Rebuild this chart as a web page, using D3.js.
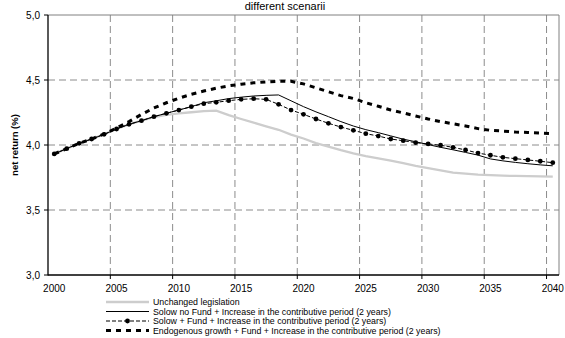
<!DOCTYPE html>
<html>
<head>
<meta charset="utf-8">
<script src="https://cdn.jsdelivr.net/npm/d3@7"></script>
<style>
  body { margin: 0; background: #fff; }
  text { font-family: "Liberation Sans", Arial, sans-serif; fill: #000; }
</style>
</head>
<body>
<div id="chart"></div>
<script>
// years 2000..2040
const years = d3.range(2000, 2041)

const unchanged = [3.931, 3.972, 4.013, 4.046, 4.082, 4.123, 4.159, 4.187, 4.215, 4.232,
  4.243, 4.252, 4.26, 4.265, 4.23, 4.2, 4.172, 4.144, 4.117, 4.08,
  4.05, 4.015, 3.988, 3.96, 3.935, 3.915, 3.898, 3.88, 3.86, 3.84,
  3.823, 3.805, 3.788, 3.78, 3.772, 3.768, 3.764, 3.762, 3.76, 3.758, 3.756]

const solowNoFund = [3.931, 3.972, 4.013, 4.046, 4.082, 4.123, 4.159, 4.187, 4.218, 4.244,
  4.269, 4.295, 4.325, 4.34, 4.357, 4.368, 4.377, 4.382, 4.385, 4.34,
  4.295, 4.255, 4.218, 4.18, 4.146, 4.118, 4.095, 4.07, 4.045, 4.025,
  4.003, 3.982, 3.963, 3.943, 3.922, 3.893, 3.878, 3.866, 3.856, 3.847, 3.84]

const solowFund = [3.931, 3.972, 4.013, 4.046, 4.082, 4.123, 4.159, 4.187, 4.218, 4.244,
  4.269, 4.295, 4.318, 4.328, 4.341, 4.351, 4.356, 4.351, 4.313, 4.269,
  4.236, 4.2, 4.167, 4.138, 4.113, 4.087, 4.069, 4.046, 4.033, 4.018,
  4.008, 3.998, 3.982, 3.962, 3.938, 3.921, 3.905, 3.895, 3.885, 3.875, 3.864]

const endogenous = [3.931, 3.972, 4.013, 4.046, 4.085, 4.13, 4.18, 4.235, 4.285, 4.325,
  4.36, 4.39, 4.415, 4.437, 4.455, 4.468, 4.478, 4.485, 4.49, 4.49,
  4.47, 4.44, 4.41, 4.38, 4.358, 4.325, 4.298, 4.269, 4.247, 4.223,
  4.2, 4.18, 4.163, 4.146, 4.126, 4.113, 4.107, 4.1, 4.096, 4.091, 4.087]

const yTicks = [3.0, 3.5, 4.0, 4.5, 5.0]
const xLabelYears = [2000, 2005, 2010, 2015, 2020, 2025, 2030, 2035, 2040]

const legendLabels = [
  'Unchanged legislation',
  'Solow no Fund + Increase in the contributive period (2 years)',
  'Solow + Fund + Increase in the contributive period (2 years)',
  'Endogenous growth + Fund + Increase in the contributive period (2 years)'
]

const width = 565
const height = 338
const plot = { left: 48, right: 559, top: 15, bottom: 275 }

const svg = d3
  .select('#chart')
  .append('svg')
  .attr('width', width)
  .attr('height', height)

const x = d3.scaleBand().domain(years).range([plot.left, plot.right]).padding(0)
const y = d3.scaleLinear().domain([3, 5]).range([plot.bottom, plot.top])
const cx = d => x(d) + x.bandwidth() / 2

// gridlines
svg
  .selectAll('.hgrid')
  .data([3.5, 4.0, 4.5])
  .enter()
  .append('line')
  .attr('x1', plot.left)
  .attr('x2', plot.right)
  .attr('y1', d => y(d))
  .attr('y2', d => y(d))
  .attr('stroke', '#8c8c8c')
  .attr('stroke-dasharray', '7,4')

svg
  .selectAll('.vgrid')
  .data(xLabelYears.slice(1))
  .enter()
  .append('line')
  .attr('x1', d => x(d))
  .attr('x2', d => x(d))
  .attr('y1', plot.top)
  .attr('y2', plot.bottom)
  .attr('stroke', '#8c8c8c')
  .attr('stroke-dasharray', '7,4')

// frame top / right
svg.append('path')
  .attr('d', `M${plot.left},${plot.top}H${plot.right}V${plot.bottom}`)
  .attr('fill', 'none')
  .attr('stroke', '#808080')

// axes
svg.append('line')
  .attr('x1', plot.left).attr('x2', plot.left)
  .attr('y1', plot.top).attr('y2', plot.bottom + 0.5)
  .attr('stroke', '#000').attr('stroke-width', 1.3)
svg.append('line')
  .attr('x1', plot.left).attr('x2', plot.right)
  .attr('y1', plot.bottom).attr('y2', plot.bottom)
  .attr('stroke', '#000').attr('stroke-width', 1.3)

svg.selectAll('.ytick')
  .data(yTicks)
  .enter()
  .append('line')
  .attr('x1', plot.left - 4)
  .attr('x2', plot.left)
  .attr('y1', d => y(d))
  .attr('y2', d => y(d))
  .attr('stroke', '#000')

svg.selectAll('.ylab')
  .data(yTicks)
  .enter()
  .append('text')
  .attr('x', 40)
  .attr('y', d => y(d) + 3.5)
  .attr('text-anchor', 'end')
  .attr('font-size', 10)
  .text(d => d.toFixed(1).replace('.', ','))

svg.selectAll('.xtick')
  .data(xLabelYears.slice(1))
  .enter()
  .append('line')
  .attr('x1', d => x(d))
  .attr('x2', d => x(d))
  .attr('y1', plot.bottom)
  .attr('y2', plot.bottom + 4)
  .attr('stroke', '#000')

svg.selectAll('.xlab')
  .data(xLabelYears)
  .enter()
  .append('text')
  .attr('x', d => cx(d))
  .attr('y', 292)
  .attr('text-anchor', 'middle')
  .attr('font-size', 10)
  .text(d => d)

svg.append('text')
  .attr('transform', 'translate(18,145) rotate(-90)')
  .attr('text-anchor', 'middle')
  .attr('font-size', 9.5)
  .attr('font-weight', 'bold')
  .text('net return (%)')

svg.append('text')
  .attr('x', 285)
  .attr('y', 10)
  .attr('text-anchor', 'middle')
  .attr('font-size', 11)
  .text('different scenarii')

// series
const series = [
  { values: unchanged, stroke: '#cdcdcd', width: 2.3, dash: null, dots: false },
  { values: solowNoFund, stroke: '#000', width: 1, dash: null, dots: false },
  { values: solowFund, stroke: '#000', width: 1, dash: '4,2', dots: true },
  { values: endogenous, stroke: '#000', width: 3, dash: '5,5', dots: false }
]

const line = d3.line()
  .x((d, i) => cx(years[i]))
  .y(d => y(d))

series.forEach(s => {
  svg.append('path')
    .datum(s.values)
    .attr('d', line)
    .attr('fill', 'none')
    .attr('stroke', s.stroke)
    .attr('stroke-width', s.width)
    .attr('stroke-dasharray', s.dash)
})

svg.selectAll('.dot')
  .data(solowFund)
  .enter()
  .append('circle')
  .attr('cx', (d, i) => cx(years[i]))
  .attr('cy', d => y(d))
  .attr('r', 2.4)
  .attr('fill', '#000')

// legend
const legend = svg.append('g')
legendLabels.forEach((label, i) => {
  const s = series[i]
  const ly = 302 + i * 9.5
  legend.append('line')
    .attr('x1', 106).attr('x2', 149)
    .attr('y1', ly).attr('y2', ly)
    .attr('stroke', s.stroke)
    .attr('stroke-width', s.width)
    .attr('stroke-dasharray', s.dash)
  if (s.dots) {
    legend.append('circle').attr('cx', 127.5).attr('cy', ly).attr('r', 2.4).attr('fill', '#000')
  }
  legend.append('text')
    .attr('x', 153)
    .attr('y', ly + 3)
    .attr('font-size', 8.8)
    .text(label)
})
</script>
</body>
</html>
